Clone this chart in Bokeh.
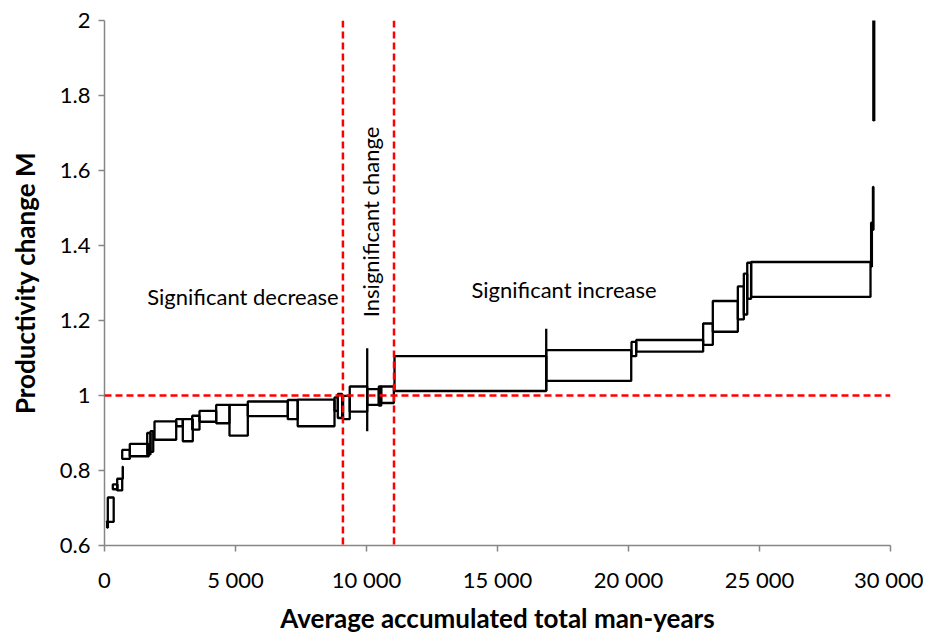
import math
from bokeh.plotting import figure
from bokeh.models import FixedTicker, Range1d, Span, Label
from bokeh.embed import file_html
from bokeh.resources import INLINE

# ---- data ----
box_left = [100, 126, 317, 485, 695, 676, 966, 1630, 1755, 1909, 2737, 2989, 3348, 3626,
            4263, 4771, 5470, 6997, 7374, 8779, 8905, 9107, 9360, 10027, 10027, 10470,
            10560, 11069, 16860, 16860, 20116, 20295, 22849, 23218, 24173, 24402, 24532,
            24680, 29260, 29330, 29345]
box_right = [130, 351, 496, 676, 700, 966, 1691, 1755, 1860, 2737, 2989, 3370, 3626, 4263,
             4771, 5470, 6997, 7374, 8779, 8905, 9070, 9360, 10027, 10027, 10470, 10560,
             11043, 16860, 16860, 20104, 20295, 22849, 23218, 24173, 24402, 24532, 24680,
             29237, 29290, 29350, 29380]
m_low = [0.648, 0.663, 0.750, 0.747, 0.778, 0.831, 0.838, 0.843, 0.850, 0.882, 0.918, 0.878,
         0.909, 0.930, 0.926, 0.893, 0.945, 0.937, 0.918, 0.959, 0.940, 0.937, 0.957, 0.905,
         0.975, 0.973, 0.980, 1.012, 1.012, 1.039, 1.105, 1.117, 1.135, 1.170, 1.203, 1.216,
         1.258, 1.263, 1.344, 1.442, 1.734]
m_high = [0.665, 0.728, 0.763, 0.778, 0.810, 0.855, 0.871, 0.900, 0.905, 0.931, 0.937, 0.937,
          0.946, 0.959, 0.975, 0.975, 0.984, 0.988, 0.989, 0.995, 1.004, 0.999, 1.024, 1.126,
          1.017, 1.024, 1.024, 1.105, 1.178, 1.121, 1.143, 1.148, 1.192, 1.252, 1.291, 1.325,
          1.354, 1.356, 1.461, 1.556, 2.1]

boundaries = [9100, 11050]
reference_m = 1.0

x_ticks = [0, 5000, 10000, 15000, 20000, 25000, 30000]
x_tick_labels = ["0", "5 000", "10 000", "15 000", "20 000", "25 000", "30 000"]
y_ticks = [0.6, 0.8, 1.0, 1.2, 1.4, 1.6, 1.8, 2.0]
y_tick_labels = ["0.6", "0.8", "1", "1.2", "1.4", "1.6", "1.8", "2"]

zone_labels = ["Significant decrease", "Insignificant change", "Significant increase"]
zone_x = [5286, 10153, 17539]
zone_y = [1.264, 1.463, 1.283]
zone_angle = [0, math.pi / 2, 0]

FONT = "Lato"

p = figure(width=923, height=636, output_backend="svg", toolbar_location=None,
           x_range=Range1d(0, 30000), y_range=Range1d(0.6, 2.0))
p.min_border_left = 104
p.min_border_right = 33
p.min_border_top = 20
p.min_border_bottom = 88
p.outline_line_color = None
p.grid.visible = False
p.background_fill_color = "white"

p.quad(left=box_left, right=box_right, bottom=m_low, top=m_high,
       fill_color=None, line_color="black", line_width=2.3)

# reference lines
p.add_layout(Span(location=reference_m, dimension="width", line_color="#ff0000",
                  line_width=2.5, line_dash="7 4"))
for b in boundaries:
    p.add_layout(Span(location=b, dimension="height", line_color="#ff0000",
                      line_width=2.5, line_dash="7 4"))

for t, x, y, a in zip(zone_labels, zone_x, zone_y, zone_angle):
    p.add_layout(Label(x=x, y=y, text=t, angle=a, text_align="center",
                       text_baseline="middle", text_font=FONT, text_font_size="22px",
                       text_color="black"))

for ax in (p.xaxis[0], p.yaxis[0]):
    ax.axis_line_color = "#868686"
    ax.axis_line_width = 1.5
    ax.major_tick_line_color = "#868686"
    ax.major_tick_line_width = 1.5
    ax.major_tick_out = 6
    ax.major_tick_in = 0
    ax.minor_tick_line_color = None
    ax.major_label_text_font = FONT
    ax.major_label_text_font_size = "22px"
    ax.major_label_text_color = "black"
    ax.axis_label_text_font = FONT
    ax.axis_label_text_font_style = "bold"
    ax.axis_label_text_font_size = "26px"
    ax.axis_label_text_color = "black"

p.xaxis.ticker = FixedTicker(ticks=x_ticks)
p.xaxis.major_label_overrides = dict(zip(x_ticks, x_tick_labels))
p.xaxis.axis_label = "Average accumulated total man-years"
p.xaxis.major_label_standoff = 14
p.xaxis.axis_label_standoff = 6

p.yaxis.ticker = FixedTicker(ticks=y_ticks)
p.yaxis.major_label_overrides = dict(zip(y_ticks, y_tick_labels))
p.yaxis.axis_label = "Productivity change M"
p.yaxis.major_label_standoff = 8
p.yaxis.axis_label_standoff = 16

open("out.html", "w").write(file_html(p, INLINE))
